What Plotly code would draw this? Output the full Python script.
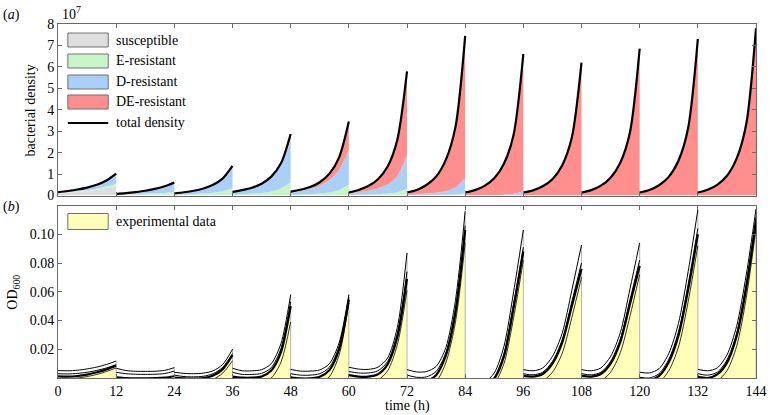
import plotly.graph_objects as go

# ---------------- data ----------------
seg_starts = [0, 12, 24, 36, 48, 60, 72, 84, 96, 108, 120, 132]
offsets = [0, 2, 4, 6, 8, 10, 12]

# panel (a): bacterial density (units of 1e7) per segment, 7 points each
susceptible = [
    [0.10, 0.13, 0.17, 0.21, 0.27, 0.35, 0.45],
    [0.02, 0.02, 0.025, 0.025, 0.03, 0.03, 0.03],
    [0.01, 0.01, 0.01, 0.01, 0.01, 0.01, 0.01],
    [0, 0, 0, 0, 0, 0, 0],
    [0, 0, 0, 0, 0, 0, 0],
    [0, 0, 0, 0, 0, 0, 0],
    [0, 0, 0, 0, 0, 0, 0],
    [0, 0, 0, 0, 0, 0, 0],
    [0, 0, 0, 0, 0, 0, 0],
    [0, 0, 0, 0, 0, 0, 0],
    [0, 0, 0, 0, 0, 0, 0],
    [0, 0, 0, 0, 0, 0, 0],
]
e_resistant = [
    [0.02, 0.025, 0.03, 0.04, 0.05, 0.065, 0.09],
    [0.02, 0.03, 0.04, 0.055, 0.07, 0.09, 0.13],
    [0.03, 0.04, 0.06, 0.08, 0.12, 0.19, 0.33],
    [0.04, 0.06, 0.08, 0.12, 0.19, 0.33, 0.62],
    [0.03, 0.04, 0.06, 0.09, 0.14, 0.26, 0.50],
    [0.02, 0.03, 0.04, 0.06, 0.09, 0.15, 0.30],
    [0.01, 0.01, 0.015, 0.02, 0.03, 0.05, 0.10],
    [0, 0, 0, 0, 0, 0, 0],
    [0, 0, 0, 0, 0, 0, 0],
    [0, 0, 0, 0, 0, 0, 0],
    [0, 0, 0, 0, 0, 0, 0],
    [0, 0, 0, 0, 0, 0, 0],
]
d_resistant = [
    [0.03, 0.05, 0.075, 0.11, 0.165, 0.26, 0.44],
    [0.03, 0.06, 0.09, 0.135, 0.205, 0.30, 0.43],
    [0.06, 0.10, 0.145, 0.23, 0.35, 0.56, 0.97],
    [0.12, 0.18, 0.26, 0.40, 0.64, 1.07, 1.98],
    [0.12, 0.18, 0.25, 0.37, 0.58, 0.93, 1.63],
    [0.07, 0.12, 0.18, 0.27, 0.42, 0.75, 1.59],
    [0.03, 0.05, 0.075, 0.11, 0.17, 0.32, 0.70],
    [0.01, 0.01, 0.015, 0.02, 0.04, 0.08, 0.20],
    [0, 0, 0, 0, 0, 0, 0],
    [0, 0, 0, 0, 0, 0, 0],
    [0, 0, 0, 0, 0, 0, 0],
    [0, 0, 0, 0, 0, 0, 0],
]
de_resistant = [
    [0.00, 0.005, 0.005, 0.01, 0.015, 0.025, 0.04],
    [0.00, 0.00, 0.005, 0.005, 0.005, 0.01, 0.02],
    [0.00, 0.00, 0.005, 0.01, 0.02, 0.04, 0.07],
    [0.01, 0.01, 0.02, 0.03, 0.05, 0.10, 0.27],
    [0.03, 0.05, 0.09, 0.16, 0.30, 0.59, 1.32],
    [0.05, 0.11, 0.22, 0.43, 0.84, 1.70, 3.90],
    [0.10, 0.20, 0.40, 0.75, 1.46, 2.83, 6.65],
    [0.13, 0.24, 0.435, 0.78, 1.44, 2.77, 6.40],
    [0.14, 0.24, 0.43, 0.76, 1.40, 2.70, 6.20],
    [0.14, 0.25, 0.46, 0.83, 1.53, 2.95, 6.85],
    [0.14, 0.26, 0.48, 0.87, 1.62, 3.15, 7.30],
    [0.14, 0.27, 0.50, 0.92, 1.72, 3.35, 7.80],
]

# panel (b): OD600 experimental curves per segment
od_upper = [
    [0.0052, 0.0050, 0.0054, 0.0063, 0.0076, 0.0094, 0.0118],
    [0.0068, 0.0052, 0.0047, 0.0046, 0.0047, 0.0053, 0.0072],
    [0.0040, 0.0032, 0.0030, 0.0034, 0.0050, 0.0095, 0.0200],
    [0.0068, 0.0050, 0.0050, 0.0058, 0.0100, 0.0240, 0.0580],
    [0.0060, 0.0048, 0.0048, 0.0056, 0.0100, 0.0245, 0.0580],
    [0.0075, 0.0062, 0.0060, 0.0075, 0.0140, 0.0350, 0.0870],
    [0.0058, 0.0042, 0.0045, 0.0080, 0.0210, 0.0540, 0.1160],
    [-0.0060, -0.0050, -0.0030, 0.0035, 0.0220, 0.0600, 0.1030],
    [0.0058, 0.0050, 0.0070, 0.0150, 0.0310, 0.0610, 0.0925],
    [0.0058, 0.0050, 0.0070, 0.0150, 0.0315, 0.0620, 0.0940],
    [0.0040, 0.0035, 0.0065, 0.0170, 0.0380, 0.0740, 0.1170],
    [0.0060, 0.0050, 0.0070, 0.0160, 0.0360, 0.0720, 0.1175],
]
od_band = [
    [0.0030, 0.0028, 0.0032, 0.0040, 0.0053, 0.0070, 0.0092],
    [0.0040, 0.0030, 0.0026, 0.0025, 0.0026, 0.0031, 0.0048],
    [0.0020, 0.0010, 0.0008, 0.0012, 0.0030, 0.0075, 0.0170],
    [0.0040, 0.0025, 0.0025, 0.0032, 0.0072, 0.0205, 0.0530],
    [0.0030, 0.0020, 0.0020, 0.0030, 0.0075, 0.0220, 0.0560],
    [0.0045, 0.0035, 0.0035, 0.0050, 0.0115, 0.0310, 0.0740],
    [0.0020, 0.0005, 0.0008, 0.0045, 0.0175, 0.0480, 0.1060],
    [-0.0080, -0.0070, -0.0050, 0.0005, 0.0170, 0.0520, 0.0910],
    [0.0030, 0.0022, 0.0040, 0.0115, 0.0265, 0.0530, 0.0800],
    [0.0030, 0.0022, 0.0040, 0.0115, 0.0270, 0.0545, 0.0820],
    [0.0005, 0.0000, 0.0030, 0.0130, 0.0320, 0.0650, 0.1040],
    [0.0030, 0.0020, 0.0040, 0.0125, 0.0310, 0.0660, 0.1120],
]
od_mean = [
    [0.0012, 0.0010, 0.0014, 0.0024, 0.0040, 0.0060, 0.0086],
    [0.0005, -0.0001, -0.0003, -0.0002, -0.0001, 0.0002, 0.0012],
    [0.0002, -0.0003, -0.0004, 0.0000, 0.0018, 0.0062, 0.0160],
    [0.0010, 0.0002, 0.0002, 0.0010, 0.0052, 0.0180, 0.0500],
    [0.0005, -0.0003, -0.0003, 0.0008, 0.0055, 0.0200, 0.0545],
    [0.0020, 0.0010, 0.0010, 0.0026, 0.0095, 0.0285, 0.0690],
    [-0.0010, -0.0025, -0.0020, 0.0020, 0.0155, 0.0455, 0.1030],
    [-0.0090, -0.0080, -0.0060, -0.0005, 0.0150, 0.0490, 0.0880],
    [0.0015, 0.0010, 0.0028, 0.0100, 0.0245, 0.0500, 0.0760],
    [0.0015, 0.0010, 0.0028, 0.0100, 0.0250, 0.0515, 0.0780],
    [-0.0010, -0.0015, 0.0015, 0.0110, 0.0295, 0.0615, 0.1000],
    [0.0010, 0.0000, 0.0025, 0.0105, 0.0290, 0.0630, 0.1090],
]
od_lower = [
    [-0.0005, -0.0005, 0.0000, 0.0010, 0.0025, 0.0045, 0.0070],
    [-0.0030, -0.0035, -0.0035, -0.0035, -0.0033, -0.0030, -0.0020],
    [-0.0030, -0.0035, -0.0035, -0.0030, -0.0010, 0.0035, 0.0120],
    [-0.0030, -0.0040, -0.0040, -0.0035, 0.0000, 0.0110, 0.0390],
    [-0.0030, -0.0040, -0.0040, -0.0032, 0.0010, 0.0160, 0.0520],
    [-0.0020, -0.0030, -0.0030, -0.0015, 0.0050, 0.0230, 0.0610],
    [-0.0050, -0.0060, -0.0060, -0.0025, 0.0105, 0.0390, 0.0940],
    [-0.0110, -0.0100, -0.0080, -0.0040, 0.0100, 0.0420, 0.0820],
    [-0.0030, -0.0035, -0.0020, 0.0040, 0.0170, 0.0420, 0.0700],
    [-0.0030, -0.0035, -0.0020, 0.0040, 0.0175, 0.0430, 0.0720],
    [-0.0050, -0.0055, -0.0030, 0.0050, 0.0215, 0.0530, 0.0920],
    [-0.0030, -0.0040, -0.0020, 0.0050, 0.0220, 0.0560, 0.1040],
]

x_ticks = [0, 12, 24, 36, 48, 60, 72, 84, 96, 108, 120, 132, 144]
top_y_ticks = [0, 1, 2, 3, 4, 5, 6, 7, 8]
bottom_y_ticks = [0.02, 0.04, 0.06, 0.08, 0.10]
bottom_y_ticklabels = ["0.02", "0.04", "0.06", "0.08", "0.10"]

component_names = ["susceptible", "E-resistant", "D-resistant", "DE-resistant"]
component_data = [susceptible, e_resistant, d_resistant, de_resistant]
component_colors = ["#dedede", "#c8f6c8", "#abd0f7", "#ff8f8f"]
yellow = "#ffffba"

# ---------------- figure ----------------
W, H = 778, 415
ML, MR, MT, MB = 58, 11, 24, 37
PW, PH = W - ML - MR, H - MT - MB


def px(x):
    return (x - ML) / PW


def py(y):
    return 1 - (y - MT) / PH


FONT = "Liberation Serif, Times New Roman, serif"
fig = go.Figure()

for k, t0 in enumerate(seg_starts):
    xs = [t0 + o for o in offsets]
    for name, data, col in zip(component_names, component_data, component_colors):
        fig.add_trace(go.Scatter(
            x=xs, y=data[k], mode="lines", stackgroup=f"s{k}",
            line=dict(width=0, shape="spline", smoothing=0.8),
            fillcolor=col, showlegend=False, hoverinfo="skip",
            xaxis="x", yaxis="y"))
    total = [sum(c[k][i] for c in component_data) for i in range(len(offsets))]
    fig.add_trace(go.Scatter(
        x=xs, y=total, mode="lines",
        line=dict(color="black", width=2.2, shape="spline", smoothing=0.8),
        showlegend=False, hoverinfo="skip", xaxis="x", yaxis="y"))

for k, t0 in enumerate(seg_starts):
    xs = [t0 + o for o in offsets]
    fig.add_trace(go.Scatter(
        x=xs, y=od_mean[k], mode="lines", fill="tozeroy", fillcolor=yellow,
        line=dict(width=0, shape="spline", smoothing=0.8),
        showlegend=False, hoverinfo="skip", xaxis="x2", yaxis="y2"))
    fig.add_trace(go.Scatter(
        x=[xs[-1], xs[-1]], y=[0, od_upper[k][-1]], mode="lines",
        line=dict(color="#b5b5b5", width=1),
        showlegend=False, hoverinfo="skip", xaxis="x2", yaxis="y2"))
    for data, w in ((od_lower, 0.8), (od_band, 1.0), (od_upper, 1.0), (od_mean, 2.2)):
        fig.add_trace(go.Scatter(
            x=xs, y=data[k], mode="lines",
            line=dict(color="black", width=w, shape="spline", smoothing=0.8),
            showlegend=False, hoverinfo="skip", xaxis="x2", yaxis="y2"))

axis_common = dict(
    showline=True, linecolor="#6a6a6a", linewidth=1, mirror="allticks",
    ticks="inside", ticklen=4, tickcolor="#6a6a6a", showgrid=False,
    zeroline=False, tickfont=dict(family=FONT, size=14, color="black"))

top_dom = [py(195.5), 1.0]
bot_dom = [0.0, py(205.5)]

fig.update_layout(
    width=W, height=H, margin=dict(l=ML, r=MR, t=MT, b=MB),
    paper_bgcolor="white", plot_bgcolor="white", showlegend=False,
    font=dict(family=FONT, size=14, color="black"),
    xaxis=dict(range=[0, 144], domain=[0, 1], anchor="y", tickvals=x_ticks,
               showticklabels=False, **axis_common),
    yaxis=dict(range=[0, 8], domain=top_dom, anchor="x", tickvals=top_y_ticks,
               **axis_common),
    xaxis2=dict(range=[0, 144], domain=[0, 1], anchor="y2", tickvals=x_ticks,
                **axis_common),
    yaxis2=dict(range=[0, 0.12], domain=bot_dom, anchor="x2",
                tickvals=bottom_y_ticks, ticktext=bottom_y_ticklabels,
                **axis_common),
)

shapes = []
annotations = []
# legend (a)
leg_rows = [(33, 47), (54, 68), (75, 89), (95, 109)]
for (y0, y1), name, col in zip(leg_rows, component_names, component_colors):
    shapes.append(dict(type="rect", xref="paper", yref="paper",
                       x0=px(68), x1=px(109), y0=py(y1), y1=py(y0),
                       fillcolor=col, line=dict(color="#707070", width=1)))
    annotations.append(dict(text=name, xref="paper", yref="paper",
                            x=px(115), y=py((y0 + y1) / 2), xanchor="left",
                            yanchor="middle", showarrow=False,
                            font=dict(family=FONT, size=14)))
shapes.append(dict(type="line", xref="paper", yref="paper",
                   x0=px(68), x1=px(109), y0=py(123), y1=py(123),
                   line=dict(color="black", width=2.2)))
annotations.append(dict(text="total density", xref="paper", yref="paper",
                        x=px(115), y=py(123), xanchor="left", yanchor="middle",
                        showarrow=False, font=dict(family=FONT, size=14)))
# legend (b)
shapes.append(dict(type="rect", xref="paper", yref="paper",
                   x0=px(68), x1=px(109), y0=py(229.5), y1=py(213.5),
                   fillcolor=yellow, line=dict(color="#707070", width=1)))
annotations.append(dict(text="experimental data", xref="paper", yref="paper",
                        x=px(115), y=py(221.5), xanchor="left", yanchor="middle",
                        showarrow=False, font=dict(family=FONT, size=14)))

# labels
annotations += [
    dict(text="10<sup>7</sup>", xref="paper", yref="paper", x=px(60), y=py(13),
         xanchor="left", yanchor="middle", showarrow=False,
         font=dict(family=FONT, size=14)),
    dict(text="(<i>a</i>)", xref="paper", yref="paper", x=px(0), y=py(15),
         xanchor="left", yanchor="middle", showarrow=False,
         font=dict(family=FONT, size=14)),
    dict(text="(<i>b</i>)", xref="paper", yref="paper", x=px(0), y=py(207),
         xanchor="left", yanchor="middle", showarrow=False,
         font=dict(family=FONT, size=14)),
    dict(text="bacterial density", xref="paper", yref="paper", x=px(30),
         y=py(110), xanchor="center", yanchor="middle", textangle=-90,
         showarrow=False, font=dict(family=FONT, size=14)),
    dict(text="OD<sub>600</sub>", xref="paper", yref="paper", x=px(12),
         y=py(292), xanchor="center", yanchor="middle", textangle=-90,
         showarrow=False, font=dict(family=FONT, size=14)),
    dict(text="time (h)", xref="paper", yref="paper", x=0.5, y=py(406),
         xanchor="center", yanchor="middle", showarrow=False,
         font=dict(family=FONT, size=14)),
]
fig.update_layout(shapes=shapes, annotations=annotations)

post = ("document.body.style.margin='0';document.body.style.padding='0';"
        "document.body.style.overflow='hidden';"
        "document.documentElement.style.overflow='hidden';")
fig.write_html("out.html", post_script=post,
               config={"displayModeBar": False, "responsive": False})
